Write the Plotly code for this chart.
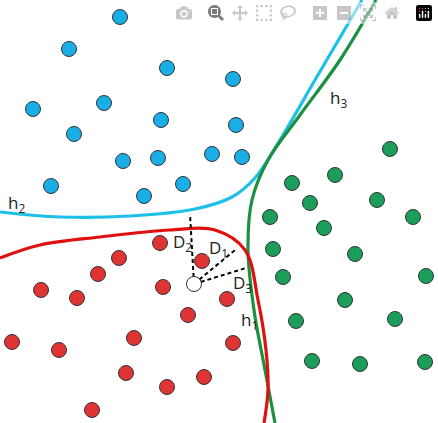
import plotly.graph_objects as go

# point positions (picture pixels)
blue_x = [120, 69, 167, 233, 33, 104, 161, 236, 74, 123, 158, 212, 242, 51, 144, 183]
blue_y = [17, 49, 68, 79, 109, 103, 120, 125, 134, 161, 158, 154, 157, 186, 196, 184]
red_x = [160, 119, 98, 202, 41, 77, 163, 227, 188, 12, 59, 134, 233, 126, 167, 204, 92]
red_y = [243, 258, 274, 261, 290, 298, 287, 299, 315, 342, 350, 338, 343, 373, 387, 377, 410]
green_x = [390, 292, 335, 310, 377, 270, 324, 413, 273, 355, 283, 426, 345, 296, 395, 312, 360, 425]
green_y = [149, 183, 175, 203, 200, 217, 228, 217, 249, 254, 277, 276, 300, 321, 319, 361, 364, 362]
query = (194, 284)

# boundary curves
h2_x = [0, 60, 130, 195, 232, 255, 280, 315, 362]
h2_y = [212, 217, 216, 209, 197, 178, 140, 80, 0]
h3_x = [376, 340, 300, 268, 252, 248, 254, 265, 275]
h3_y = [0, 60, 115, 160, 200, 250, 310, 370, 423]
h1_x = [0, 40, 100, 170, 215, 245, 258, 266, 268, 264]
h1_y = [258, 245, 237, 230, 230, 250, 300, 350, 390, 423]

# dashed distance segment ends
d_x = [190, 235, 246]
d_y = [214, 250, 268]

fig = go.Figure()
for x, y, c in [(h2_x, h2_y, "#1ec0e8"), (h3_x, h3_y, "#1a9040"), (h1_x, h1_y, "#e01010")]:
    fig.add_trace(go.Scatter(x=x, y=y, mode="lines", line=dict(color=c, width=3.2, shape="spline")))
for ex, ey in zip(d_x, d_y):
    fig.add_trace(go.Scatter(x=[query[0], ex], y=[query[1], ey], mode="lines",
                             line=dict(color="black", width=2, dash="4px,3px")))
for x, y, c in [(blue_x, blue_y, "#1aaee6"), (red_x, red_y, "#e03434"), (green_x, green_y, "#1a9e5a")]:
    fig.add_trace(go.Scatter(x=x, y=y, mode="markers",
                             marker=dict(size=15, color=c, line=dict(color="#333", width=1))))
fig.add_trace(go.Scatter(x=[query[0]], y=[query[1]], mode="markers",
                         marker=dict(size=15, color="white", line=dict(color="#333", width=1))))

labels = [("h<sub>2</sub>", 16, 203), ("h<sub>3</sub>", 338, 98), ("h<sub>1</sub>", 249, 320),
          ("D<sub>2</sub>", 182, 242), ("D<sub>1</sub>", 218, 248), ("D<sub>3</sub>", 242, 283)]
for t, x, y in labels:
    fig.add_annotation(x=x, y=y, text=t, showarrow=False,
                       font=dict(size=17, color="#222", family="Open Sans"))

fig.update_xaxes(range=[0, 438], visible=False)
fig.update_yaxes(range=[423, 0], visible=False)
fig.update_layout(width=438, height=423, margin=dict(l=0, r=0, t=0, b=0),
                  showlegend=False, plot_bgcolor="white", paper_bgcolor="white")
fig.write_html("out.html", post_script="document.body.style.margin='0';")
